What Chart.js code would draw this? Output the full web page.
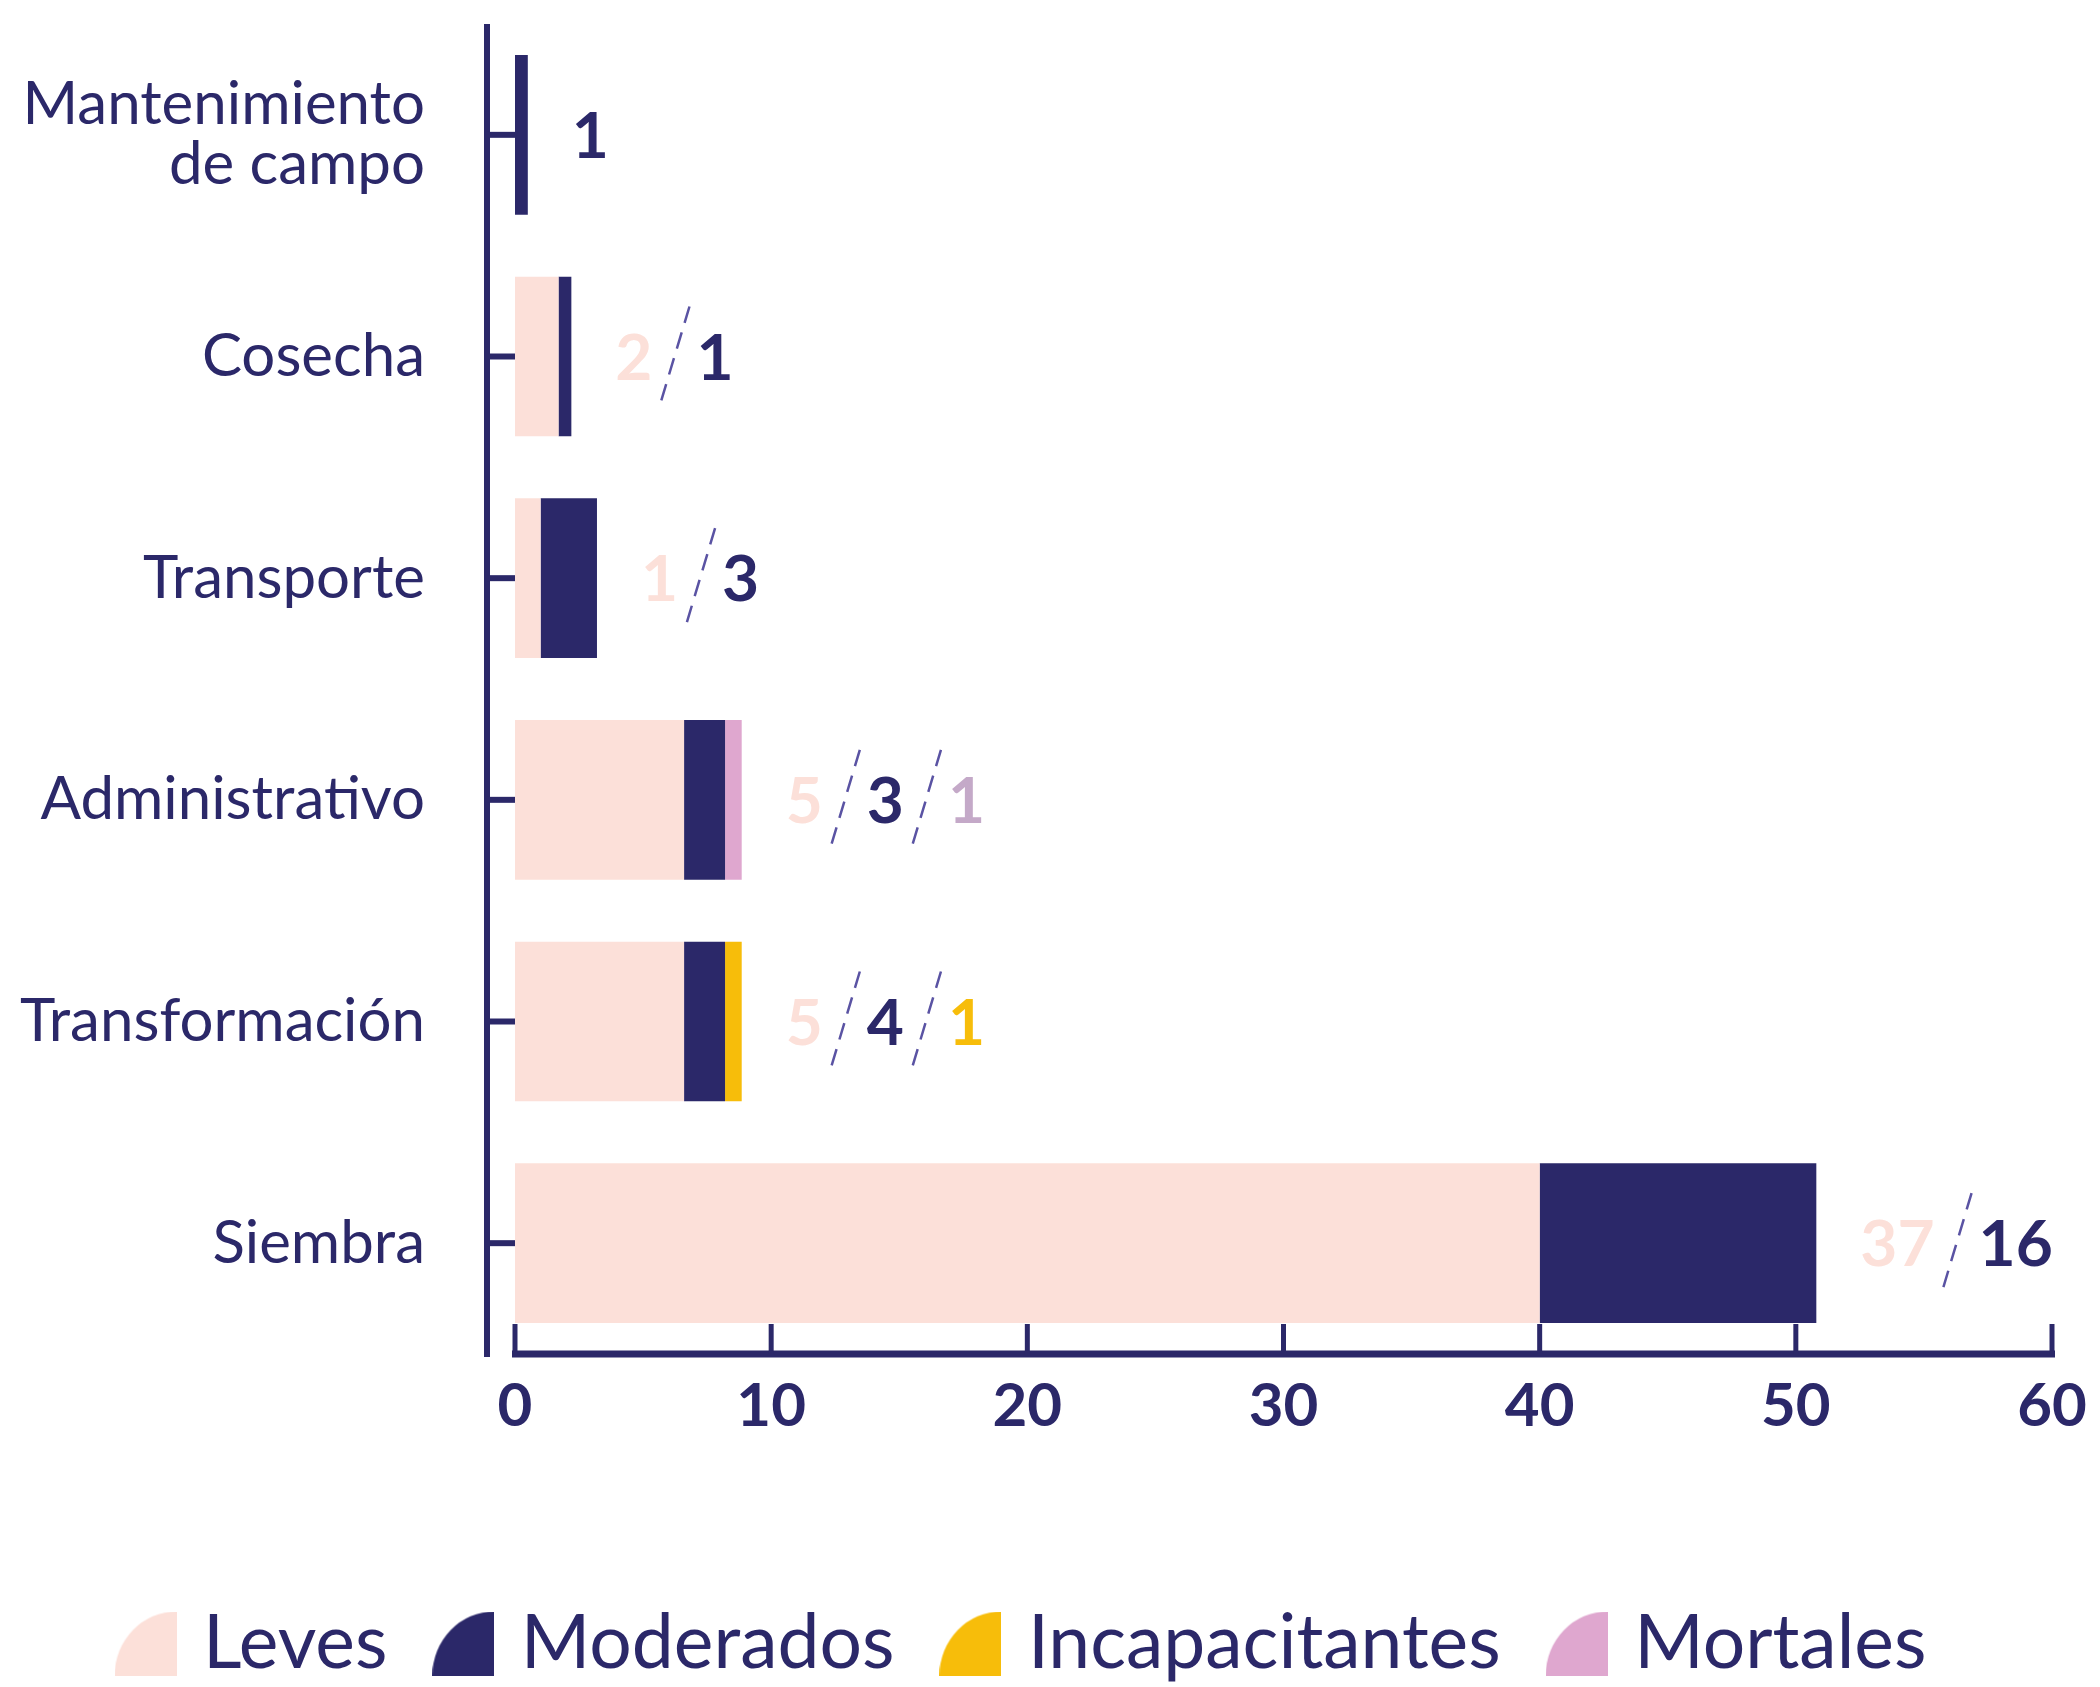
<!DOCTYPE html>
<html lang="es">
<head>
<meta charset="utf-8">
<title>Accidentes por área</title>
<script src="https://cdn.jsdelivr.net/npm/chart.js@4.4.1/dist/chart.umd.min.js"></script>
<style>
    html, body { margin: 0; padding: 0; background: #ffffff; }
    #wrap { width: 2100px; height: 1687px; position: relative; }
</style>
</head>
<body>
<div id="wrap"><canvas id="grafico"></canvas></div>
<script>
// Datos del gráfico
const CATEGORIAS = [['Mantenimiento', 'de campo'], 'Cosecha', 'Transporte', 'Administrativo', 'Transformación', 'Siembra'];

// Largo de las barras (en unidades del eje)
const LEVES = [0, 1.7, 1.0, 6.6, 6.6, 40];
const MODERADOS = [0.5, 0.5, 2.2, 1.6, 1.6, 10.8];
const INCAPACITANTES = [0, 0, 0, 0, 0.65, 0];
const MORTALES = [0, 0, 0, 0.65, 0, 0];

// Cifras escritas junto a cada barra
const CIFRAS_LEVES = [null, 2, 1, 5, 5, 37];
const CIFRAS_MODERADOS = [1, 1, 3, 3, 4, 16];
const CIFRAS_INCAPACITANTES = [null, null, null, null, 1, null];
const CIFRAS_MORTALES = [null, null, null, 1, null, null];

const TICKS_X = [0, 10, 20, 30, 40, 50, 60];

// Colores
const AZUL = '#2b2869';
const ROSA = '#fce0d9';
const AMARILLO = '#f7bd0a';
const LILA = '#dfa7cf';
const LILA_CIFRA = '#c4a9c8';
const RAYA = '#5a53a3';

const SERIES = [
    { nombre: 'Leves', valores: LEVES, cifras: CIFRAS_LEVES, color: ROSA, colorCifra: ROSA },
    { nombre: 'Moderados', valores: MODERADOS, cifras: CIFRAS_MODERADOS, color: AZUL, colorCifra: AZUL },
    { nombre: 'Incapacitantes', valores: INCAPACITANTES, cifras: CIFRAS_INCAPACITANTES, color: AMARILLO, colorCifra: AMARILLO },
    { nombre: 'Mortales', valores: MORTALES, cifras: CIFRAS_MORTALES, color: LILA, colorCifra: LILA_CIFRA }
];

// Forma de la leyenda: cuarto de elipse
function formaLeyenda(color) {
    const c = document.createElement('canvas');
    c.width = 62; c.height = 64;
    const g = c.getContext('2d');
    g.fillStyle = color;
    g.beginPath();
    g.moveTo(62, 64);
    g.lineTo(0, 64);
    g.ellipse(62, 64, 62, 64, 0, Math.PI, 1.5 * Math.PI);
    g.closePath();
    g.fill();
    return c;
}

// Ejes a mano: línea vertical separada, marcas hacia arriba en el eje x
const ejesPlugin = {
    id: 'ejes',
    beforeDatasetsDraw(chart) {
        const { ctx, chartArea: a, scales: { x, y } } = chart;
        ctx.save();
        ctx.strokeStyle = AZUL;
        const ejeY = a.left - 28;
        ctx.lineWidth = 6;
        ctx.beginPath();
        ctx.moveTo(ejeY, a.top);
        ctx.lineTo(ejeY, a.bottom + 3);
        ctx.stroke();
        CATEGORIAS.forEach((c, i) => {
            const py = y.getPixelForValue(i);
            ctx.beginPath();
            ctx.moveTo(ejeY, py);
            ctx.lineTo(a.left, py);
            ctx.stroke();
        });
        ctx.lineWidth = 7;
        ctx.beginPath();
        ctx.moveTo(x.getPixelForValue(0) - 3, a.bottom);
        ctx.lineTo(x.getPixelForValue(60) + 3, a.bottom);
        ctx.stroke();
        ctx.lineWidth = 5;
        TICKS_X.forEach(v => {
            const px = x.getPixelForValue(v);
            ctx.beginPath();
            ctx.moveTo(px, a.bottom);
            ctx.lineTo(px, a.bottom - 30);
            ctx.stroke();
        });
        ctx.restore();
    }
};

// Cifras separadas por rayas punteadas
function raya(ctx, cx, cy) {
    ctx.save();
    ctx.strokeStyle = RAYA;
    ctx.lineWidth = 2.5;
    ctx.setLineDash([17, 10]);
    ctx.beginPath();
    ctx.moveTo(cx + 15, cy - 50);
    ctx.lineTo(cx - 15, cy + 50);
    ctx.stroke();
    ctx.restore();
}

const cifrasPlugin = {
    id: 'cifras',
    afterDatasetsDraw(chart) {
        const { ctx, scales: { x, y } } = chart;
        ctx.save();
        ctx.font = '700 64px Lato';
        ctx.textBaseline = 'alphabetic';
        ctx.textAlign = 'left';
        CATEGORIAS.forEach((c, i) => {
            const total = SERIES.reduce((s, d) => s + d.valores[i], 0);
            const cy = y.getPixelForValue(i);
            let cx = x.getPixelForValue(total) + 44;
            const partes = SERIES.filter(d => d.cifras[i] !== null);
            partes.forEach((d, k) => {
                if (k > 0) {
                    raya(ctx, cx + 22, cy);
                    cx += 44;
                }
                const txt = String(d.cifras[i]);
                ctx.fillStyle = d.colorCifra;
                ctx.fillText(txt, cx, cy + 23);
                cx += ctx.measureText(txt).width;
            });
        });
        ctx.restore();
    }
};

new Chart(document.getElementById('grafico'), {
    type: 'bar',
    data: {
        labels: CATEGORIAS,
        datasets: SERIES.map(s => ({
            label: s.nombre,
            data: s.valores,
            backgroundColor: s.color,
            borderWidth: 0,
            barPercentage: 0.72,
            categoryPercentage: 1
        }))
    },
    options: {
        indexAxis: 'y',
        responsive: true,
        maintainAspectRatio: false,
        animation: false,
        layout: { padding: { top: 24, right: 48, left: 0, bottom: -4 } },
        scales: {
            x: {
                stacked: true,
                min: 0,
                max: 60,
                afterBuildTicks: s => { s.ticks = TICKS_X.map(v => ({ value: v })); },
                afterFit: s => { s.height = 196; },
                grid: { display: false },
                border: { display: false },
                ticks: {
                    color: AZUL,
                    padding: 9,
                    font: { family: 'Lato', weight: '700', size: 60 }
                }
            },
            y: {
                stacked: true,
                afterFit: s => {
                    s.width = 515;
                    s.paddingTop = 0;
                    s.paddingBottom = 0;
                },
                grid: { display: false },
                border: { display: false },
                ticks: {
                    color: AZUL,
                    padding: 82,
                    font: { family: 'Lato', weight: '400', size: 60, lineHeight: 1.0 }
                }
            }
        },
        plugins: {
            tooltip: { enabled: false },
            legend: {
                position: 'bottom',
                labels: {
                    color: AZUL,
                    font: { family: 'Lato', weight: '400', size: 75 },
                    usePointStyle: true,
                    pointStyleWidth: 40,
                    boxHeight: 64,
                    padding: 56,
                    generateLabels: (chart) => SERIES.map((s, i) => ({
                        text: s.nombre,
                        fillStyle: s.color,
                        strokeStyle: s.color,
                        lineWidth: 0,
                        fontColor: AZUL,
                        pointStyle: formaLeyenda(s.color),
                        hidden: false,
                        datasetIndex: i
                    }))
                }
            }
        }
    },
    plugins: [ejesPlugin, cifrasPlugin]
});
</script>
</body>
</html>
